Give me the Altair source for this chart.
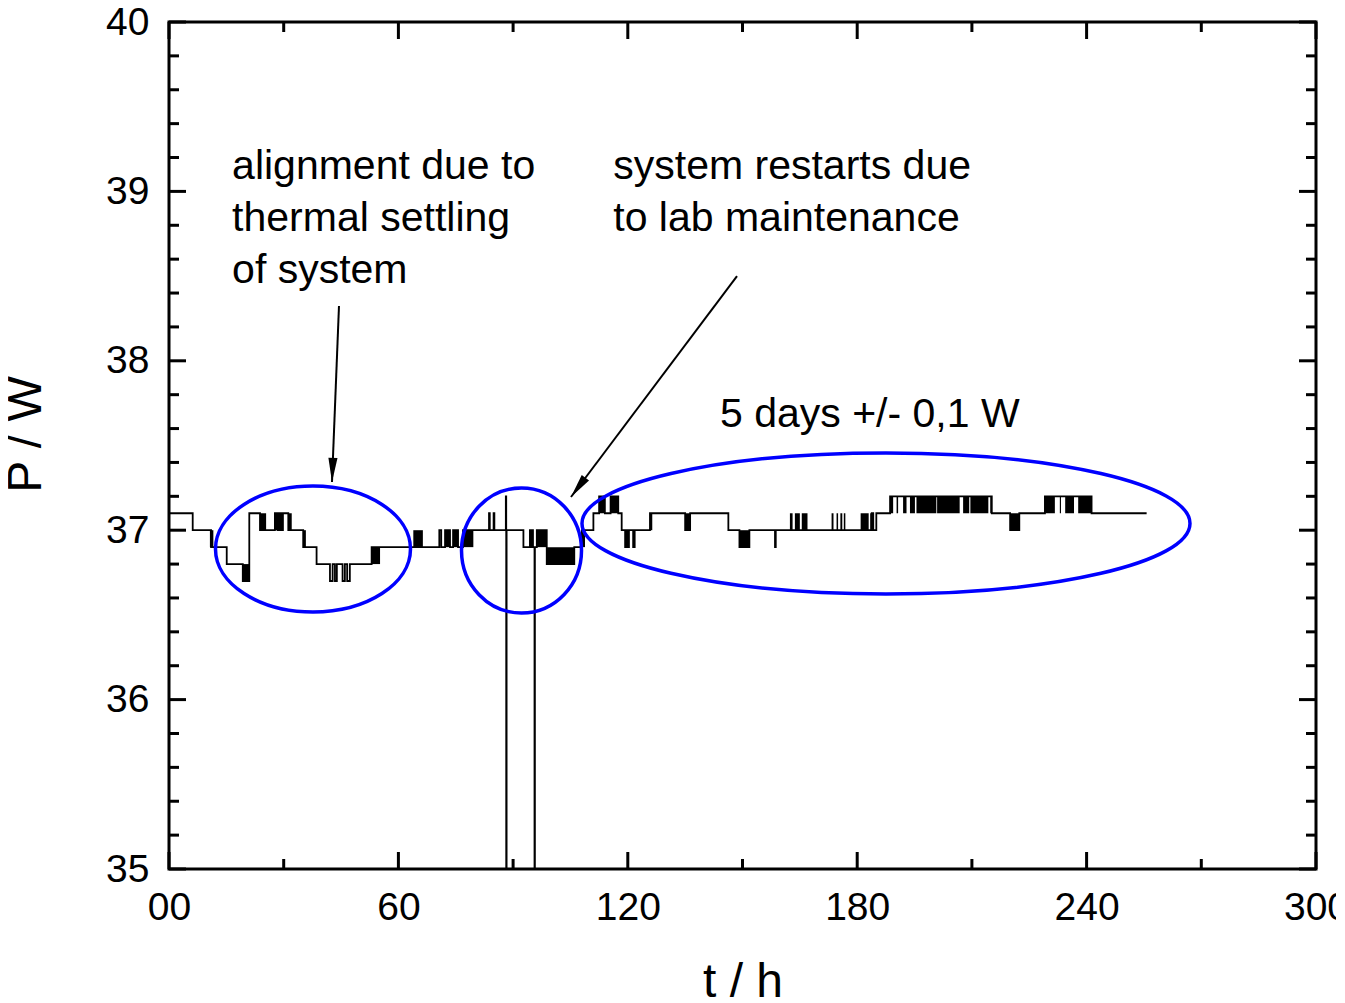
import altair as alt
import pandas as pd

# ---------------- data ----------------
# step series (time in h, power in W), drawn with step-after interpolation
step_t = [0, 6.2, 11.0, 15.1, 19.3, 21.0, 23.8, 27.7, 28.4, 28.8, 29.0, 29.3, 29.5, 29.8,
          31.2, 35.1, 38.6, 42.1, 42.8, 43.4, 43.9, 45.4, 46.0, 46.6, 47.3, 53.0,
          70.7, 71.2, 72.2, 73.5, 74.3, 75.6, 76.9, 83.7, 83.9, 84.9, 85.1,
          88.1, 88.2, 88.3, 92.7, 94.4, 94.6, 95.0, 95.2, 95.6, 95.7, 96.2, 98.8,
          106.0, 108.0, 111.0, 112.5, 114.0, 115.5, 117.5, 118.4, 119.3, 119.6,
          120.0, 120.3, 121.4, 121.8, 125.8, 135.0, 136.3, 146.3, 149.2, 151.8,
          158.5, 158.7, 183.8, 184.2, 185.0, 188.6, 215.2, 220.0, 222.4, 229.1,
          241.3, 255.7]
step_p = [37.1, 37.0, 36.9, 36.8, 36.7, 37.1, 37.0, 37.1, 37.0, 37.1, 37.0, 37.1, 37.0, 37.1,
          37.0, 36.9, 36.8, 36.7, 36.8, 36.7, 36.8, 36.7, 36.8, 36.7, 36.8, 36.9,
          37.0, 36.9, 37.0, 36.9, 37.0, 36.9, 37.0, 37.1, 37.0, 37.1, 37.0,
          37.2, 35.0, 37.0, 36.9, 37.0, 36.9, 37.0, 36.9, 35.0, 36.9, 37.0, 36.8,
          36.9, 37.0, 37.1, 37.2, 37.1, 37.2, 37.1, 37.0, 36.9, 37.0,
          36.9, 37.0, 36.9, 37.0, 37.1, 37.0, 37.1, 37.0, 36.9, 37.0,
          36.9, 37.0, 37.1, 37.0, 37.1, 37.2, 37.1, 37.0, 37.1, 37.2,
          37.1, 37.1]

# dense flicker regions (solid black blocks between two levels)
blk_t0 = [10.7, 19.3, 23.8, 27.7, 31.2, 35.1, 53.0, 63.9, 72.2, 74.3, 76.9, 96.2, 98.8,
          108.0, 112.5, 115.5, 125.8, 135.0, 149.2, 162.4, 163.7, 165.5, 173.3, 174.6,
          175.6, 176.5, 180.9, 183.4, 188.6, 190.3, 192.0, 193.8, 195.5, 200.9, 207.7,
          209.6, 214.8, 220.0, 229.1, 233.0, 234.4, 237.8]
blk_t1 = [11.6, 21.0, 25.4, 28.4, 32.1, 35.8, 55.2, 66.4, 73.5, 75.6, 79.6, 98.8, 106.0,
          108.8, 114.0, 117.5, 126.4, 136.3, 151.8, 163.1, 165.0, 167.0, 173.8, 175.0,
          176.1, 176.9, 183.0, 183.8, 189.4, 190.7, 192.9, 195.1, 200.7, 206.8, 209.3,
          214.3, 215.2, 222.4, 231.7, 233.3, 236.7, 241.3]
blk_lo = [36.9, 36.7, 37.0, 37.0, 37.0, 36.9, 36.8, 36.9, 36.9, 36.9, 36.9, 36.9, 36.8,
          36.9, 37.1, 37.1, 37.0, 37.0, 36.9, 37.0, 37.0, 37.0, 37.0, 37.0,
          37.0, 37.0, 37.0, 37.0, 37.1, 37.1, 37.1, 37.1, 37.1, 37.1, 37.1,
          37.1, 37.1, 37.0, 37.1, 37.1, 37.1, 37.1]
blk_hi = [37.0, 36.8, 37.1, 37.1, 37.1, 37.0, 36.9, 37.0, 37.0, 37.0, 37.0, 37.0, 36.9,
          37.0, 37.2, 37.2, 37.1, 37.1, 37.0, 37.1, 37.1, 37.1, 37.1, 37.1,
          37.1, 37.1, 37.1, 37.1, 37.2, 37.2, 37.2, 37.2, 37.2, 37.2, 37.2,
          37.2, 37.2, 37.1, 37.2, 37.2, 37.2, 37.2]

# axis ticks
x_major = [0, 60, 120, 180, 240, 300]
x_minor = [30, 90, 150, 210, 270]
y_major = [35, 36, 37, 38, 39, 40]
y_minor = [35.2, 35.4, 35.6, 35.8, 36.2, 36.4, 36.6, 36.8, 37.2, 37.4, 37.6, 37.8,
           38.2, 38.4, 38.6, 38.8, 39.2, 39.4, 39.6, 39.8]

# annotations
ann_text = ["alignment due to", "thermal settling", "of system",
            "system restarts due", "to lab maintenance", "5 days +/- 0,1 W"]
ann_t = [16.5, 16.5, 16.5, 116.2, 116.2, 144.1]
ann_p = [39.073, 38.766, 38.459, 39.073, 38.766, 37.609]

ell_t = [37.66, 92.2, 187.53]
ell_p = [36.889, 36.88, 37.04]

arrow_t0 = [44.46, 148.56]
arrow_p0 = [38.323, 38.50]
arrow_t1 = [42.63, 105.14]
arrow_p1 = [37.285, 37.196]

# ---------------- chart ----------------
W, H = 1147, 847
FONT = "Liberation Sans"

xscale = alt.Scale(domain=[0, 300], nice=False, zero=False)
yscale = alt.Scale(domain=[35, 40], nice=False, zero=False)

line_df = pd.DataFrame({"t": step_t, "p": step_p})
blk_df = pd.DataFrame({"t": blk_t0, "t2": blk_t1, "p": blk_lo, "p2": blk_hi})

xaxis = alt.Axis(values=x_major, labelExpr="datum.value == 0 ? '00' : datum.label",
                 format="d",
                 ticks=False, tickSize=0, domain=False, grid=False, labelFlush=False,
                 labelFontSize=39, labelPadding=19, labelFont=FONT, labelColor="black",
                 title="t / h", titleFontSize=48, titleFont=FONT, titleFontWeight="normal",
                 titleColor="black", titleX=573.5, titleY=113, titleAlign="center",
                 titleBaseline="middle")
yaxis = alt.Axis(values=y_major, format="d", ticks=False, tickSize=0, domain=False,
                 grid=False,
                 labelFlush=False, labelFontSize=39, labelPadding=20, labelFont=FONT,
                 labelColor="black", title="P / W", titleFontSize=48, titleFont=FONT,
                 titleFontWeight="normal", titleColor="black", titleAngle=270,
                 titleX=-143, titleY=412, titleAlign="center", titleBaseline="middle")

line = alt.Chart(line_df).mark_line(interpolate="step-after", color="black",
                                    strokeWidth=1.8).encode(
    x=alt.X("t:Q", scale=xscale, axis=xaxis),
    y=alt.Y("p:Q", scale=yscale, axis=yaxis),
)

blocks = alt.Chart(blk_df).mark_rect(color="black").encode(
    x="t:Q", x2="t2:Q", y="p:Q", y2="p2:Q")


def xticks(vals, length, top):
    df = pd.DataFrame({"t": vals})
    y0 = 0 if top else H
    y1 = length if top else H - length
    return alt.Chart(df).mark_rule(color="black", strokeWidth=3).encode(
        x="t:Q", y=alt.value(y0), y2=alt.value(y1))


def yticks(vals, length, right):
    df = pd.DataFrame({"p": vals})
    x0 = W if right else 0
    x1 = W - length if right else length
    return alt.Chart(df).mark_rule(color="black", strokeWidth=3).encode(
        y="p:Q", x=alt.value(x0), x2=alt.value(x1))


ticks = [xticks(x_major, 17, False), xticks(x_minor, 10, False),
         xticks(x_major, 17, True), xticks(x_minor, 10, True),
         yticks(y_major, 17, False), yticks(y_minor, 10, False),
         yticks(y_major, 17, True), yticks(y_minor, 10, True)]


def ellipse_path(b):
    k = 0.5523
    return (f"M1,0 C1,{k*b:.4f} {k:.4f},{b:.4f} 0,{b:.4f} "
            f"C{-k:.4f},{b:.4f} -1,{k*b:.4f} -1,0 "
            f"C-1,{-k*b:.4f} {-k:.4f},{-b:.4f} 0,{-b:.4f} "
            f"C{k:.4f},{-b:.4f} 1,{-k*b:.4f} 1,0 Z")


ell_rx = [97.5, 60, 304]
ell_ry = [63, 62.5, 70.5]
ell_df = pd.DataFrame({
    "t": ell_t, "p": ell_p,
    "shape": [ellipse_path(ry / rx) for rx, ry in zip(ell_rx, ell_ry)],
    "sz": [(2 * rx) ** 2 for rx in ell_rx],
})
ellipses = alt.Chart(ell_df).mark_point(filled=False, color="#0000FF", strokeWidth=3.5,
                                        opacity=1).encode(
    x="t:Q", y="p:Q",
    shape=alt.Shape("shape:N", scale=None),
    size=alt.Size("sz:Q", scale=None),
)

arr_df = pd.DataFrame({"t": arrow_t0, "p": arrow_p0, "t2": arrow_t1, "p2": arrow_p1,
                       "ang": [182.3, 216.9]})
arrow_lines = alt.Chart(arr_df).mark_rule(color="black", strokeWidth=2).encode(
    x="t:Q", y="p:Q", x2="t2:Q", y2="p2:Q")
arrow_heads = alt.Chart(arr_df).mark_point(
    filled=True, color="black", opacity=1, size=576,
    shape="M0,0 L0.38,2 L-0.38,2 Z").encode(
    x="t2:Q", y="p2:Q", angle=alt.Angle("ang:Q", scale=None))

ann_df = pd.DataFrame({"t": ann_t, "p": ann_p, "txt": ann_text})
texts = alt.Chart(ann_df).mark_text(align="left", baseline="alphabetic", fontSize=41,
                                    font=FONT, color="black").encode(
    x="t:Q", y="p:Q", text="txt:N")

chart = alt.layer(line, blocks, *ticks, ellipses, arrow_lines, arrow_heads, texts).properties(
    width=W, height=H,
    autosize=alt.AutoSizeParams(type="none"),
    padding={"left": 161, "top": 14, "right": 20, "bottom": 130},
    background="white",
).configure_view(stroke="black", strokeWidth=3)

chart.save("out.html", embed_options={"renderer": "svg", "actions": False})
